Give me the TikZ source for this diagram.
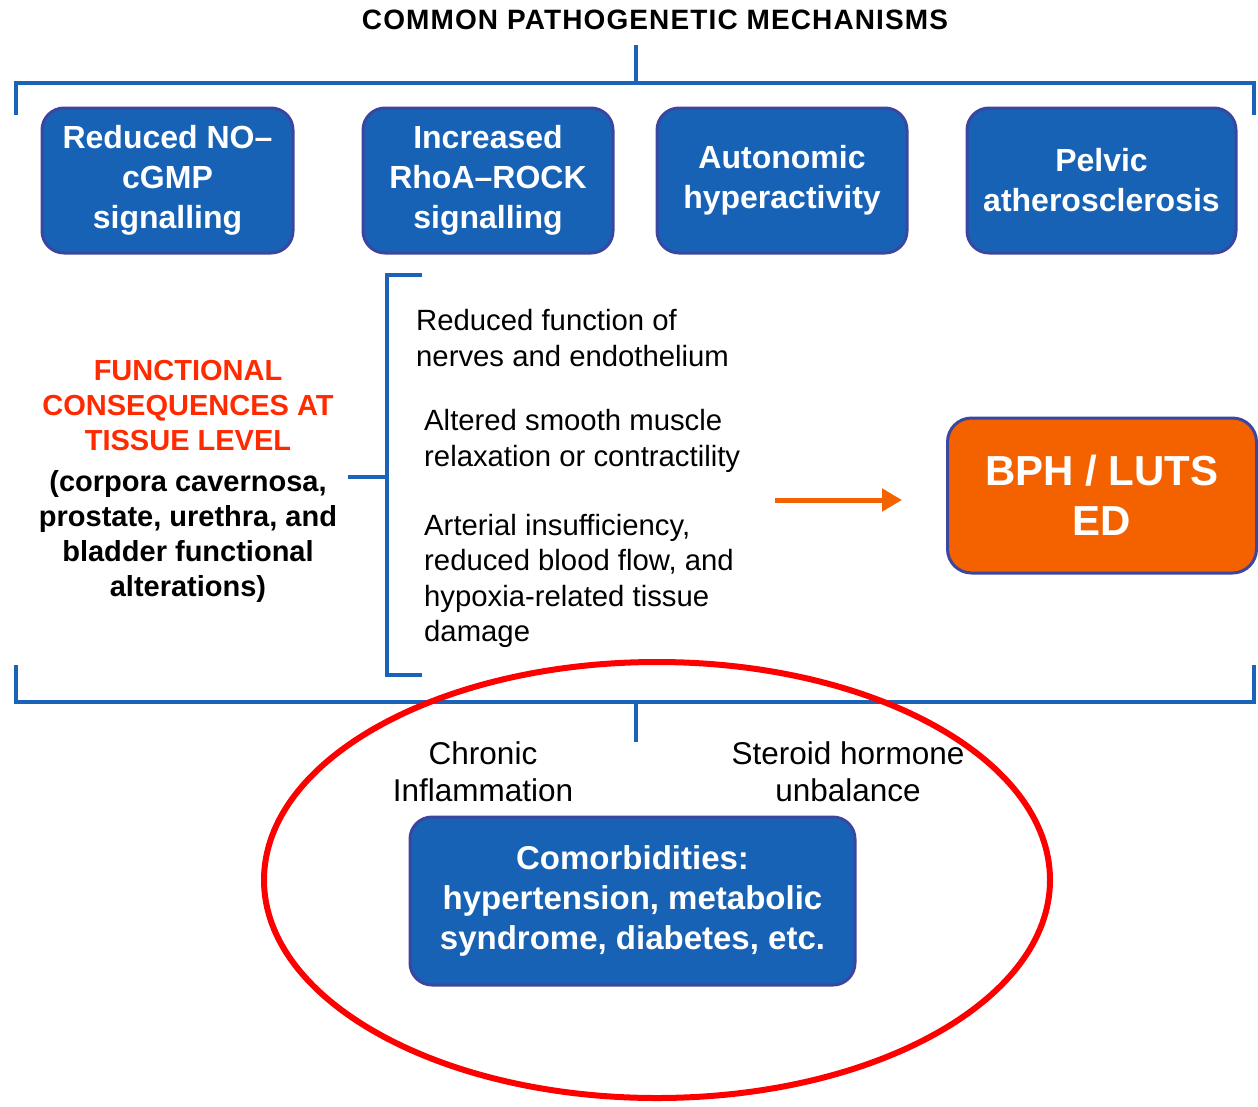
\documentclass[tikz,border=0pt]{standalone}
\usepackage{fontspec}
\setmainfont{Liberation Sans}
\usetikzlibrary{arrows.meta,shapes.geometric}
\definecolor{boxblue}{HTML}{1762B4}
\definecolor{boxedge}{HTML}{3A46A0}
\definecolor{brblue}{HTML}{1B63B8}
\definecolor{orng}{HTML}{F46200}
\definecolor{redtxt}{HTML}{FF2A00}
\definecolor{ellred}{HTML}{FF0000}
\begin{document}
\begin{tikzpicture}[x=1pt,y=-1pt,
  mech/.style={draw=boxedge, line width=3pt, fill=boxblue, rounded corners=22pt,
    text=white, align=center, inner sep=0pt,
    font=\bfseries\fontsize{32}{40}\selectfont},
  brk/.style={draw=brblue, line width=4pt},
  plain/.style={align=left, inner sep=0pt, font=\fontsize{29.3}{35.5}\selectfont},
  ctext/.style={align=center, inner sep=0pt},
]
\useasboundingbox (0,0) rectangle (1258,1106);

% title
\node[inner sep=0pt, font=\bfseries\fontsize{28}{32}\selectfont\addfontfeature{LetterSpace=4}] (title) at (655,20) {COMMON PATHOGENETIC MECHANISMS};

% top bracket
\coordinate (tl) at (16,115); \coordinate (tlc) at (16,83);
\coordinate (tr) at (1254,115); \coordinate (trc) at (1254,83);
\coordinate (tm) at (636,83); \coordinate (tmt) at (636,45);
\draw[brk] (tl) -- (tlc) -- (trc) -- (tr);
\draw[brk] (tm) -- (tmt);

% mechanism boxes
\node[mech, minimum width=251pt, minimum height=145pt] (b1) at (167.5,180.5) {Reduced NO--\\cGMP\\signalling};
\node[mech, minimum width=250pt, minimum height=145pt] (b2) at (488,180.5) {Increased\\RhoA--ROCK\\signalling};
\node[mech, minimum width=250pt, minimum height=145pt] (b3) at (782,180.5) {Autonomic\\hyperactivity};
\node[mech, minimum width=269pt, minimum height=145pt] (b4) at (1101.5,180.5) {Pelvic\\atherosclerosis};

% left bracket
\coordinate (lt) at (422,275); \coordinate (ltc) at (387,275);
\coordinate (lb) at (422,675); \coordinate (lbc) at (387,675);
\coordinate (lm) at (387,477); \coordinate (lmt) at (348,477);
\draw[brk] (lt) -- (ltc) -- (lbc) -- (lb);
\draw[brk] (lm) -- (lmt);

% functional consequences
\node[ctext, text=redtxt, font=\bfseries\fontsize{29}{35}\selectfont] (fc) at (188,406) {FUNCTIONAL\\CONSEQUENCES AT\\TISSUE LEVEL};
\node[ctext, font=\bfseries\fontsize{29}{35}\selectfont] (fcs) at (188,536) {(corpora cavernosa,\\prostate, urethra, and\\bladder functional\\alterations)};

% right texts
\node[plain, anchor=west] (t1) at (416,338) {Reduced function of\\nerves and endothelium};
\node[plain, anchor=west] (t2) at (424,441) {Altered smooth muscle\\relaxation or contractility};
\node[plain, anchor=west] (t3) at (424,581) {Arterial insufficiency,\\reduced blood flow, and\\hypoxia-related tissue\\damage};

% arrow
\coordinate (as) at (775,500); \coordinate (ae) at (902,500);
\draw[orng, line width=5pt, -{Triangle[length=20pt,width=22pt]}] (as) -- (ae);

% outcome box
\node[draw=boxedge, line width=3pt, fill=orng, rounded corners=24pt, text=white, align=center,
  inner sep=0pt, minimum width=309pt, minimum height=155pt,
  font=\bfseries\fontsize{42}{50}\selectfont] (out) at (1102,495.5) {BPH / LUTS\\ED};

% bottom bracket
\coordinate (bl) at (16,665); \coordinate (blc) at (16,702);
\coordinate (br) at (1254,665); \coordinate (brc) at (1254,702);
\coordinate (bm) at (636,702); \coordinate (bmt) at (636,742);
\draw[brk] (bl) -- (blc) -- (brc) -- (br);
\draw[brk] (bm) -- (bmt);

% factors
\node[ctext, font=\fontsize{31.5}{37}\selectfont] (chr) at (483,772) {Chronic\\Inflammation};
\node[ctext, font=\fontsize{31.5}{37}\selectfont] (ster) at (848,772) {Steroid hormone\\unbalance};

% comorbidities
\node[mech, minimum width=445pt, minimum height=168pt, font=\bfseries\fontsize{33}{40}\selectfont] (com) at (632.5,901) {Comorbidities:\\hypertension, metabolic\\syndrome, diabetes, etc.};

% red ellipse
\node[draw=ellred, line width=6pt, ellipse, minimum width=786pt, minimum height=436pt, inner sep=0pt] (ell) at (657,880) {};
\end{tikzpicture}
\end{document}
